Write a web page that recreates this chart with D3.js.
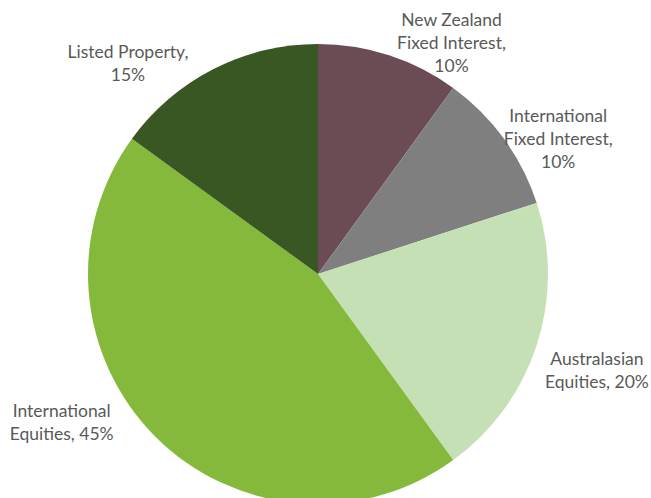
<!DOCTYPE html>
<html>
<head>
<meta charset="utf-8">
<script src="https://cdn.jsdelivr.net/npm/d3@7"></script>
<style>
  html, body { margin: 0; padding: 0; background: #fff; overflow: hidden; }
  svg { display: block; }
</style>
</head>
<body>
<svg id="chart" width="651" height="498"></svg>
<script>
// Portfolio allocation (clockwise from 12 o'clock)
const categories = ['New Zealand Fixed Interest', 'International Fixed Interest',
    'Australasian Equities', 'International Equities', 'Listed Property'];
const shares = [10, 10, 20, 45, 15];
// Label lines as they wrap in the chart
const labelLines = [
    ['New Zealand', 'Fixed Interest,', '10%'],
    ['International', 'Fixed Interest,', '10%'],
    ['Australasian', 'Equities, 20%'],
    ['International', 'Equities, 45%'],
    ['Listed Property,', '15%']
];
const colors = ['#6B4C54', '#7F7F7F', '#C5E0B4', '#84B93B', '#385723'];

// Layout
const cx = 318, cy = 274, radius = 230;
const lineHeight = 23;
// label placement: angle (deg, clockwise from top) and distance from centre
const labelPlace = [
    { angle: 30, r: 267 },
    { angle: 60.5, r: 276 },
    { angle: 109, r: 295 },
    { angle: 240, r: 296 },
    { angle: 318, r: 284 }
];

const data = categories.map((c, i) => ({ key: c, value: shares[i], lines: labelLines[i], color: colors[i] }));

const svg = d3.select('#chart');
const g = svg.append('g').attr('transform', `translate(${cx},${cy})`);

const pie = d3.pie().value(d => d.value).sort(null);
const arc = d3.arc().innerRadius(0).outerRadius(radius);
const arcs = pie(data);

g.selectAll('.slice')
    .data(arcs)
    .join('path')
    .attr('class', 'slice')
    .attr('d', arc)
    .attr('fill', d => d.data.color);

// Labels outside the pie
const labels = g.selectAll('.label')
    .data(arcs)
    .join('text')
    .attr('class', 'label')
    .attr('text-anchor', 'middle')
    .attr('font-family', 'Lato, "Open Sans", sans-serif')
    .attr('font-size', '17.5px')
    .attr('fill', '#595959')
    .attr('transform', (d, i) => {
        const a = labelPlace[i].angle * Math.PI / 180;
        const r = labelPlace[i].r;
        return `translate(${r * Math.sin(a)},${-r * Math.cos(a)})`;
    });

labels.each(function(d) {
    const n = d.data.lines.length;
    d3.select(this).selectAll('tspan')
        .data(d.data.lines)
        .join('tspan')
        .attr('x', 0)
        .attr('y', (l, j) => (j - (n - 1) / 2) * lineHeight + 6.5)
        .text(l => l);
});
</script>
</body>
</html>
